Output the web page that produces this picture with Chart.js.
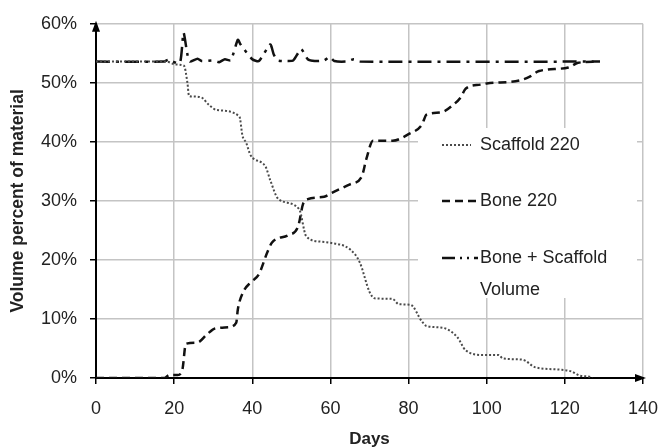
<!DOCTYPE html>
<html>
<head>
<meta charset="utf-8">
<script src="https://cdn.jsdelivr.net/npm/chart.js@4/dist/chart.umd.min.js"></script>
<style>
    html, body { margin: 0; padding: 0; background: #fff; }
    #wrap { width: 672px; height: 448px; }
</style>
</head>
<body>
<div id="wrap"><canvas id="chart" width="672" height="448"></canvas></div>
<script>
// Volume of scaffold and bone over time

const scaffoldDays = [0, 18, 20.4, 22.5, 23.4, 23.8, 24.5, 27, 29, 30.9, 36.7, 37.5, 38.4, 39.6, 43.4, 44.6, 46.7, 52, 53.8, 57.5, 60, 65, 67.5, 70, 71.3, 75.9, 77.5, 80.5, 83.4, 84.6, 88.8, 92.5, 94.6, 99.2, 103, 104.2, 109.2, 112.5, 119.2, 121.7, 123.8, 126.3, 127];
const scaffoldVals = [53.6, 53.6, 53.1, 52.9, 50, 47.8, 47.7, 47.5, 46.2, 45.4, 44.3, 41, 39.9, 37.7, 35.8, 33.5, 30.3, 28.6, 24, 23.1, 22.9, 21.8, 19.6, 14.6, 13.5, 13.4, 12.5, 12.4, 9.6, 8.8, 8.5, 6.9, 4.7, 3.9, 3.9, 3.3, 3.1, 1.8, 1.4, 1.1, 0.4, 0.2, 0];

const boneDays = [0, 17.5, 18.8, 20.9, 22.1, 23, 25.9, 28.4, 30.5, 33.8, 35.9, 36.3, 37.7, 39.6, 41.7, 43.8, 45, 49.2, 51.7, 53, 54.2, 58.4, 60.5, 65, 68, 69.2, 70.9, 75.9, 80, 83.4, 84.6, 88.4, 91.3, 93.4, 94.6, 98.4, 100, 108.4, 110.9, 113.4, 120.9, 123.4, 128.4];
const boneVals = [0, 0, 0.5, 0.5, 1.4, 5.8, 6, 7.4, 8.4, 8.6, 9.4, 11.6, 14.6, 16.2, 17.6, 21.2, 22.9, 24.2, 25.6, 29.5, 30.3, 30.7, 31.4, 32.8, 34.1, 37.1, 40.2, 40.2, 41.3, 42.9, 44.6, 45, 46.2, 47.6, 49, 49.7, 49.9, 50.4, 51, 52, 52.6, 53.4, 53.6];

const totalDays = [0, 17.5, 18.4, 19.5, 21.5, 22.4, 23.4, 24, 26, 27, 28, 30, 31.5, 33, 34.5, 36.3, 37, 40, 41.7, 44.6, 45.5, 46.5, 48.8, 50.5, 52.5, 54.2, 56, 58.4, 59.8, 61, 64, 66, 67.5, 129];
const totalVals = [53.6, 53.6, 53.9, 53.6, 53.4, 58.5, 54.8, 53.6, 54.1, 53.7, 53.7, 53.8, 53.5, 54, 53.8, 57.3, 56.5, 54, 53.7, 56.5, 54.8, 53.8, 53.7, 53.8, 55.7, 54, 53.7, 53.8, 54.4, 53.7, 53.6, 54, 53.6, 53.6];

const xTicks = [0, 20, 40, 60, 80, 100, 120, 140];
const yTicks = [0, 10, 20, 30, 40, 50, 60];

const FONT = '"Liberation Sans", Arial, sans-serif';
const TEXT = '#222';

function pairs(xs, ys) {
    return xs.map((x, i) => ({ x: x, y: ys[i] }));
}

// Legend box and axis arrows, drawn by hand like the original
const extras = {
    id: 'extras',
    beforeDatasetsDraw(chart) {
        const ctx = chart.ctx;
        ctx.save();
        ctx.fillStyle = '#fff';
        ctx.fillRect(418, 128, 219, 170);
        ctx.restore();
    },
    afterDraw(chart) {
        const ctx = chart.ctx;
        const area = chart.chartArea;
        ctx.save();

        // arrows
        ctx.fillStyle = '#000';
        ctx.beginPath();
        ctx.moveTo(area.left, area.top - 3);
        ctx.lineTo(area.left - 4, area.top + 8);
        ctx.lineTo(area.left + 4, area.top + 8);
        ctx.closePath();
        ctx.fill();
        ctx.beginPath();
        ctx.moveTo(area.right + 3, area.bottom);
        ctx.lineTo(area.right - 8, area.bottom - 4);
        ctx.lineTo(area.right - 8, area.bottom + 4);
        ctx.closePath();
        ctx.fill();

        // legend
        const sx0 = 442, sx1 = 478, tx = 480;
        const rows = [
            { y: 145, dash: [2, 2], color: '#4a4a4a', width: 2, end: 471, label: 'Scaffold 220' },
            { y: 201, dash: [8, 5], color: '#111', width: 2.5, end: sx1, label: 'Bone 220' },
            { y: 258, dash: [13, 5, 2, 5, 2, 5], color: '#111', width: 2.5, end: sx1, label: 'Bone + Scaffold' }
        ];
        ctx.font = '18px ' + FONT;
        ctx.textBaseline = 'middle';
        ctx.textAlign = 'left';
        rows.forEach(r => {
            ctx.beginPath();
            ctx.setLineDash(r.dash);
            ctx.strokeStyle = r.color;
            ctx.lineWidth = r.width;
            ctx.moveTo(sx0, r.y);
            ctx.lineTo(r.end, r.y);
            ctx.stroke();
            ctx.setLineDash([]);
            ctx.fillStyle = TEXT;
            ctx.fillText(r.label, tx, r.y);
        });
        ctx.fillText('Volume', tx, 290);
        ctx.restore();
    }
};

const ctx = document.getElementById('chart').getContext('2d');
new Chart(ctx, {
    type: 'line',
    data: {
        datasets: [
            {
                label: 'Scaffold 220',
                data: pairs(scaffoldDays, scaffoldVals),
                borderColor: '#4a4a4a',
                borderWidth: 2,
                borderDash: [2, 2],
                pointRadius: 0,
                cubicInterpolationMode: 'monotone'
            },
            {
                label: 'Bone 220',
                data: pairs(boneDays, boneVals),
                borderColor: '#111',
                borderWidth: 2.5,
                borderDash: [8, 5],
                pointRadius: 0,
                cubicInterpolationMode: 'monotone'
            },
            {
                label: 'Bone + Scaffold Volume',
                data: pairs(totalDays, totalVals),
                borderColor: '#111',
                borderWidth: 2.5,
                borderDash: [14, 6, 3, 6],
                pointRadius: 0,
                tension: 0.2
            }
        ]
    },
    options: {
        responsive: false,
        animation: false,
        layout: { padding: { top: 18, right: 16, left: 0, bottom: 0 } },
        plugins: {
            legend: { display: false },
            tooltip: { enabled: false }
        },
        scales: {
            x: {
                type: 'linear',
                min: 0,
                max: 140,
                afterBuildTicks: axis => { axis.ticks = xTicks.map(v => ({ value: v })); },
                afterFit: axis => { axis.height = 70; },
                grid: { color: '#c4c4c4', lineWidth: 1.5, tickColor: '#000', tickLength: 6, tickWidth: 1.5 },
                border: { color: '#000', width: 2 },
                ticks: { color: TEXT, font: { family: FONT, size: 18 }, padding: 14, maxRotation: 0 },
                title: { display: true, text: 'Days', color: TEXT, font: { family: FONT, size: 17, weight: 'bold' }, padding: { top: 0, bottom: -2 } }
            },
            y: {
                min: 0,
                max: 60,
                afterBuildTicks: axis => { axis.ticks = yTicks.map(v => ({ value: v })); },
                afterFit: axis => { axis.width = 96; },
                grid: { color: '#c4c4c4', lineWidth: 1.5, tickColor: '#000', tickLength: 6, tickWidth: 1.5 },
                border: { color: '#000', width: 2 },
                ticks: { color: TEXT, font: { family: FONT, size: 18 }, padding: 13, callback: v => v + '%' },
                title: { display: true, text: 'Volume percent of material', color: TEXT, font: { family: FONT, size: 17.5, weight: 'bold' }, padding: { top: 8, bottom: 0 } }
            }
        }
    },
    plugins: [extras]
});
</script>
</body>
</html>
